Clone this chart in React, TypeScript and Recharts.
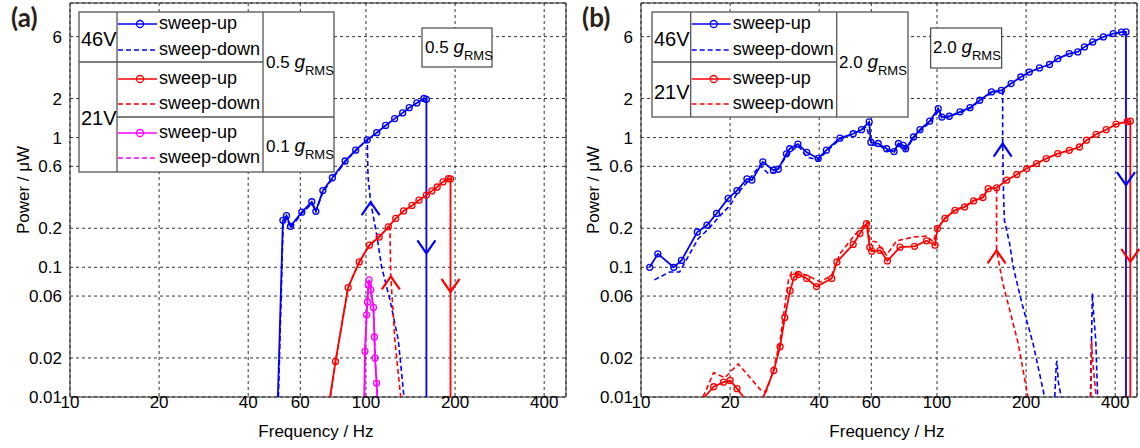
import React from 'react';
import { LineChart, Line, XAxis, YAxis, CartesianGrid, ReferenceArea, ReferenceDot } from 'recharts';

type Pair = [number, number | null];
type Arrow = [number, number, 'up' | 'down'];

const X_TICKS = [10, 20, 40, 60, 100, 200, 400];
const Y_TICKS = [0.01, 0.02, 0.04, 0.06, 0.1, 0.2, 0.4, 0.6, 1, 2, 4, 6];
const X_MAX = 474;
const Y_MAX = 10.9;

// (a) 0.5 gRMS, 46V
const up46a: Pair[] = [
  [50.4, 0.01], [52.4, 0.23], [53.9, 0.25], [55.6, 0.207], [60.7, 0.266], [65.6, 0.32],
  [67.7, 0.27], [71.5, 0.39], [77, 0.49], [85, 0.66], [92.3, 0.8], [101, 0.96], [108.7, 1.09],
  [116.5, 1.24], [125, 1.4], [133, 1.55], [140, 1.7], [148.5, 1.85], [157, 2.0], [160, 1.97], [160, 0.01],
];
const down46a: Pair[] = [
  [50.6, 0.01], [52.5, 0.22], [54, 0.24], [55.6, 0.2], [60.7, 0.26], [65.6, 0.31],
  [67.7, 0.27], [71.5, 0.38], [77, 0.48], [85, 0.65], [92.3, 0.79], [101, 0.97], [101.6, 0.5],
  [103.7, 0.32], [108.6, 0.18], [113, 0.1], [120.5, 0.056], [128.6, 0.0275], [134.4, 0.01],
];
// (a) 0.5 gRMS, 21V
const up21a: Pair[] = [
  [75.6, 0.01], [78.9, 0.0188], [87, 0.0697], [94.9, 0.11], [102.7, 0.148], [110.8, 0.171], [119, 0.205],
  [126, 0.238], [134, 0.272], [143, 0.3], [151, 0.329], [160, 0.36], [167, 0.388], [174, 0.416],
  [182, 0.455], [190, 0.483], [193, 0.48], [193, 0.01],
];
const down21a: Pair[] = [
  [75.8, 0.01], [79, 0.019], [87, 0.07], [95, 0.11], [102.7, 0.148], [110.8, 0.171], [119, 0.205],
  [120.5, 0.2], [121.3, 0.085], [125.2, 0.0275], [131, 0.01],
];
// (a) 0.1 gRMS, 21V
const upLowA: Pair[] = [
  [98.7, 0.01], [99.2, 0.0225], [100.5, 0.043], [101.2, 0.054], [101.9, 0.073], [102.4, 0.08],
  [103.8, 0.067], [106, 0.049], [106.8, 0.029], [107.3, 0.02], [108.6, 0.0128], [109.1, 0.01],
];
const downLowA: Pair[] = [
  [98.9, 0.01], [99.4, 0.023], [100.7, 0.045], [101.4, 0.06], [102.2, 0.076], [102.8, 0.078],
  [104, 0.065], [106, 0.047], [106.9, 0.028], [107.5, 0.019], [108.8, 0.0125], [109.3, 0.01],
];

// (b) 2.0 gRMS, 46V
const up46b: Pair[] = [
  [10.7, 0.1], [11.4, 0.127], [12.9, 0.1], [13.7, 0.113], [15.5, 0.187], [16.7, 0.211], [18, 0.26],
  [19.7, 0.34], [21.1, 0.39], [22.8, 0.48], [23.7, 0.47], [25.8, 0.65], [28, 0.56], [29.1, 0.57],
  [31, 0.75], [31.8, 0.82], [33.9, 0.89], [36.3, 0.77], [39.7, 0.69], [42.3, 0.8], [47, 0.99],
  [52.1, 1.07], [55.6, 1.15], [59, 1.32], [59.8, 0.92], [63.3, 0.9], [67.6, 0.82], [71.6, 0.78],
  [74.1, 0.9], [76.9, 0.87], [78.4, 0.82], [83.3, 1.01], [87.6, 1.15], [94.5, 1.34], [101, 1.67],
  [103.9, 1.44], [110, 1.46], [119.6, 1.58], [129.3, 1.7], [139.5, 1.94], [152.8, 2.25], [165, 2.31],
  [178, 2.61], [192, 2.93], [205, 3.2], [222, 3.44], [240, 3.66], [256, 4.06], [280, 4.44], [299, 4.57],
  [315, 5.0], [336, 5.46], [365, 5.97], [394, 6.34], [420, 6.5], [435, 6.52], [435, 0.01],
];
const down46b: Pair[] = [
  [11.1, 0.08], [12.5, 0.092], [13.5, 0.092], [15.6, 0.166], [17, 0.2], [18.5, 0.25], [20, 0.3],
  [21.1, 0.37], [22.8, 0.45], [25.2, 0.61], [26.9, 0.53], [28.5, 0.54], [31, 0.72], [33.9, 0.87],
  [36.3, 0.71], [39.7, 0.67], [42.3, 0.78], [47, 0.97], [55, 1.13], [57.8, 1.21], [59.3, 0.98],
  [60.8, 0.87], [63.3, 0.88], [67.6, 0.8], [71.6, 0.77], [74.1, 0.88], [78.4, 0.8], [83.3, 0.99],
  [87.6, 1.13], [94.5, 1.3], [99, 1.5], [101, 1.6], [103.9, 1.42], [110, 1.45], [119.6, 1.56],
  [129.3, 1.68], [139.5, 1.92], [152.8, 2.22], [166.7, 2.3], [166.7, 0.9], [168, 0.33], [169, 0.23],
  [176, 0.152], [181, 0.1], [194, 0.052], [211, 0.026], [231, 0.01], [240, null],
  [250, 0.01], [253, 0.018], [254.5, 0.019], [257, 0.013], [263, 0.01], [300, null],
  [330, 0.01], [335, 0.063], [338, 0.045], [344, 0.027], [349, 0.01],
];
// (b) 2.0 gRMS, 21V
const up21b: Pair[] = [
  [16.4, 0.01], [17.6, 0.012], [19, 0.013], [20, 0.0134], [21.1, 0.0116], [22.2, 0.01], [24, null],
  [25.9, 0.01], [28.1, 0.016], [29.5, 0.0244], [30.6, 0.041], [31.9, 0.066], [32.9, 0.084], [34, 0.088],
  [36.3, 0.082], [39.2, 0.071], [44.1, 0.082], [45.9, 0.11], [52.1, 0.15], [54.9, 0.182], [57.8, 0.217],
  [59.3, 0.143], [60.2, 0.133], [64.3, 0.135], [68, 0.112], [75, 0.143], [84, 0.145], [92.2, 0.16],
  [98.5, 0.148], [100.3, 0.199], [106.4, 0.238], [115, 0.275], [124, 0.292], [133, 0.325], [143, 0.345],
  [149, 0.404], [159, 0.41], [172, 0.469], [186, 0.519], [201, 0.577], [217, 0.63], [234, 0.689],
  [256, 0.753], [280, 0.798], [303, 0.846], [320, 0.954], [345, 1.06], [373, 1.15], [403, 1.27],
  [440, 1.33], [450, 1.34], [450, 0.01],
];
const down21b: Pair[] = [
  [16.2, 0.01], [17.6, 0.0154], [19.2, 0.0141], [21.3, 0.018], [25.3, 0.0114], [26.5, 0.011], [28, 0.016],
  [29.5, 0.027], [30.6, 0.05], [31.5, 0.08], [32.3, 0.092], [36.3, 0.087], [40.3, 0.077], [44.1, 0.087],
  [47, 0.127], [52.1, 0.171], [57.2, 0.217], [58.5, 0.224], [59.3, 0.16], [62.4, 0.157], [67.6, 0.124],
  [73, 0.16], [83.3, 0.171], [92.2, 0.174], [97.2, 0.157], [99.8, 0.193], [106.4, 0.24], [115, 0.277],
  [124, 0.295], [133, 0.327], [143, 0.347], [149, 0.405], [159, 0.41], [159, 0.135], [167, 0.075],
  [176, 0.047], [188, 0.026], [203, 0.01], [260, null],
  [331, 0.01], [333, 0.027], [335, 0.02], [345, 0.01],
];

const arrows46a: Arrow[] = [[103.7, 0.318, 'up'], [160, 0.128, 'down']];
const arrows21a: Arrow[] = [[121.3, 0.085, 'up'], [193, 0.0645, 'down']];
const arrows46b: Arrow[] = [[166.7, 0.9, 'up'], [435, 0.43, 'down']];
const arrows21b: Arrow[] = [[159, 0.135, 'up'], [450, 0.11, 'down']];

const BLUE = '#0000ff';
const RED = '#ff0000';
const MAGENTA = '#ff00ff';
const FONT = '"Liberation Sans", Arial, sans-serif';

const toPts = (a: Pair[]) => a.map(([x, y]) => ({ x, y }));

const makeDot = (color: string) => (p: any) => {
  const { cx, cy, index, payload } = p;
  if (payload == null || payload.y == null || payload.y <= 0.0101 || cx == null || cy == null) {
    return <g key={`n${index}`} />;
  }
  return <circle key={`d${index}`} cx={cx} cy={cy} r={3} fill="none" stroke={color} strokeWidth={1.3} />;
};

const chevron = (color: string, dir: 'up' | 'down') => (p: any) => {
  const { cx, cy } = p;
  const dy = dir === 'up' ? 13 : -13;
  return (
    <path d={`M${cx - 9},${cy + dy} L${cx},${cy} L${cx + 9},${cy + dy}`} fill="none" stroke={color} strokeWidth={2.2} />
  );
};

interface Series {
  data: Pair[];
  color: string;
  dashed?: boolean;
}

interface PanelProps {
  left: number;
  yWidth: number;
  right: number;
  series: Series[];
  arrows: { list: Arrow[]; color: string }[];
  children?: React.ReactNode;
}

function GText({ x, y, value }: { x: number; y: number; value: string }) {
  return (
    <text x={x} y={y} fontFamily={FONT} fill="#000">
      <tspan fontSize={17}>{value} </tspan>
      <tspan fontSize={19} fontStyle="italic">g</tspan>
      <tspan fontSize={13} dy={7}>RMS</tspan>
    </text>
  );
}

function Entry({ x0, y, color, dashed, label }: { x0: number; y: number; color: string; dashed?: boolean; label: string }) {
  return (
    <g>
      <line x1={x0} x2={x0 + 39} y1={y} y2={y} stroke={color} strokeWidth={1.6} strokeDasharray={dashed ? '5 3' : undefined} />
      {!dashed && <circle cx={x0 + 22} cy={y} r={3.5} fill="none" stroke={color} strokeWidth={1.3} />}
      <text x={x0 + 41} y={y + 5} fontFamily={FONT} fontSize={18} fill="#000">{label}</text>
    </g>
  );
}

function Panel({ left, yWidth, right, series, arrows, children }: PanelProps) {
  return (
    <div style={{ position: 'absolute', left, top: 0, width: 570, height: 448 }}>
      <LineChart width={570} height={448} margin={{ top: 3, right, left: 0, bottom: 0 }}>
        <CartesianGrid stroke="#333" strokeDasharray="3 3" />
        <XAxis
          dataKey="x"
          type="number"
          scale="log"
          domain={[10, X_MAX]}
          ticks={X_TICKS}
          allowDataOverflow
          axisLine={false}
          tickLine={false}
          tickSize={0}
          tickMargin={0}
          height={51}
          tick={{ fontSize: 17, fill: '#000', fontFamily: FONT, dy: -1 }}
          label={(p: any) => {
            const vb = p.viewBox || { x: yWidth, y: 397, width: 496 };
            return (
              <text x={vb.x + vb.width / 2 - 2} y={vb.y + 40} textAnchor="middle" fontFamily={FONT} fontSize={17} fill="#000">
                Frequency / Hz
              </text>
            );
          }}
        />
        <YAxis
          dataKey="y"
          type="number"
          scale="log"
          domain={[0.01, Y_MAX]}
          ticks={Y_TICKS}
          allowDataOverflow
          width={yWidth}
          axisLine={false}
          tickLine={false}
          tick={{ fontSize: 17, fill: '#000', fontFamily: FONT }}
          label={(p: any) => {
            const vb = p.viewBox || { x: 0, y: 3, width: yWidth, height: 394 };
            const cx = vb.x + 23;
            const cy = vb.y + vb.height / 2 - 10;
            return (
              <text x={cx} y={cy} transform={`rotate(-90, ${cx}, ${cy})`} textAnchor="middle" dominantBaseline="central" fontFamily={FONT} fontSize={17} fill="#000">
                Power / μW
              </text>
            );
          }}
        />
        <ReferenceArea x1={10} x2={X_MAX} y1={0.01} y2={Y_MAX} fill="none" stroke="#222" strokeWidth={1} ifOverflow="visible" />
        {series.map((s, i) => (
          <Line
            key={i}
            data={toPts(s.data)}
            dataKey="y"
            type="linear"
            stroke={s.color}
            strokeWidth={s.dashed ? 1.6 : 1.8}
            strokeDasharray={s.dashed ? '5 3' : undefined}
            dot={s.dashed ? false : makeDot(s.color)}
            activeDot={false}
            connectNulls={false}
            isAnimationActive={false}
          />
        ))}
        {arrows.flatMap((g, gi) =>
          g.list.map(([x, y, dir], i) => (
            <ReferenceDot key={`${gi}-${i}`} x={x} y={y} r={1} ifOverflow="visible" shape={chevron(g.color, dir)} />
          ))
        )}
      </LineChart>
      <svg width={570} height={448} style={{ position: 'absolute', left: 0, top: 0, pointerEvents: 'none' }}>
        {children}
      </svg>
    </div>
  );
}

export default function App() {
  const tableStroke = '#555';
  return (
    <div style={{ position: 'absolute', left: 0, top: 0, width: 1140, height: 448, background: '#fff' }}>
      <Panel
        left={0}
        yWidth={70}
        right={4}
        series={[
          { data: down46a, color: BLUE, dashed: true },
          { data: up46a, color: BLUE },
          { data: down21a, color: RED, dashed: true },
          { data: up21a, color: RED },
          { data: downLowA, color: MAGENTA, dashed: true },
          { data: upLowA, color: MAGENTA },
        ]}
        arrows={[
          { list: arrows46a, color: BLUE },
          { list: arrows21a, color: RED },
        ]}
      >
        <text x={11} y={27} fontFamily="Lato, 'Open Sans', sans-serif" fontWeight="bold" fontSize={26} fill="#2a2118">(a)</text>
        <rect x={79} y={12} width={255} height={160} fill="#fff" stroke={tableStroke} strokeWidth={1.3} />
        <line x1={117} x2={117} y1={12} y2={172} stroke={tableStroke} strokeWidth={1.3} />
        <line x1={263} x2={263} y1={12} y2={172} stroke={tableStroke} strokeWidth={1.3} />
        <line x1={79} x2={263} y1={62} y2={62} stroke={tableStroke} strokeWidth={1.3} />
        <line x1={117} x2={334} y1={117} y2={117} stroke={tableStroke} strokeWidth={1.3} />
        <text x={81} y={46} fontFamily={FONT} fontSize={20} fill="#000">46V</text>
        <text x={81} y={125} fontFamily={FONT} fontSize={20} fill="#000">21V</text>
        <Entry x0={118} y={24} color={BLUE} label="sweep-up" />
        <Entry x0={118} y={50} color={BLUE} dashed label="sweep-down" />
        <Entry x0={118} y={79} color={RED} label="sweep-up" />
        <Entry x0={118} y={104} color={RED} dashed label="sweep-down" />
        <Entry x0={118} y={133} color={MAGENTA} label="sweep-up" />
        <Entry x0={118} y={158} color={MAGENTA} dashed label="sweep-down" />
        <GText x={266} y={68} value="0.5" />
        <GText x={266} y={152} value="0.1" />
        <rect x={422} y={28} width={70} height={39} fill="#fff" stroke="#222" strokeWidth={1} />
        <GText x={425} y={53} value="0.5" />
      </Panel>
      <Panel
        left={570}
        yWidth={71}
        right={3}
        series={[
          { data: down46b, color: BLUE, dashed: true },
          { data: up46b, color: BLUE },
          { data: down21b, color: RED, dashed: true },
          { data: up21b, color: RED },
        ]}
        arrows={[
          { list: arrows46b, color: BLUE },
          { list: arrows21b, color: RED },
        ]}
      >
        <text x={12} y={27} fontFamily="Lato, 'Open Sans', sans-serif" fontWeight="bold" fontSize={26} fill="#2a2118">(b)</text>
        <rect x={82} y={12} width={256} height={105} fill="#fff" stroke={tableStroke} strokeWidth={1.3} />
        <line x1={120.7} x2={120.7} y1={12} y2={117} stroke={tableStroke} strokeWidth={1.3} />
        <line x1={266.7} x2={266.7} y1={12} y2={117} stroke={tableStroke} strokeWidth={1.3} />
        <line x1={82} x2={266.7} y1={62} y2={62} stroke={tableStroke} strokeWidth={1.3} />
        <text x={84} y={46} fontFamily={FONT} fontSize={20} fill="#000">46V</text>
        <text x={84} y={99} fontFamily={FONT} fontSize={20} fill="#000">21V</text>
        <Entry x0={121.7} y={24} color={BLUE} label="sweep-up" />
        <Entry x0={121.7} y={50} color={BLUE} dashed label="sweep-down" />
        <Entry x0={121.7} y={79} color={RED} label="sweep-up" />
        <Entry x0={121.7} y={104} color={RED} dashed label="sweep-down" />
        <GText x={269} y={68} value="2.0" />
        <rect x={360.7} y={28} width={71} height={40} fill="#fff" stroke="#222" strokeWidth={1} />
        <GText x={363} y={53} value="2.0" />
      </Panel>
    </div>
  );
}
